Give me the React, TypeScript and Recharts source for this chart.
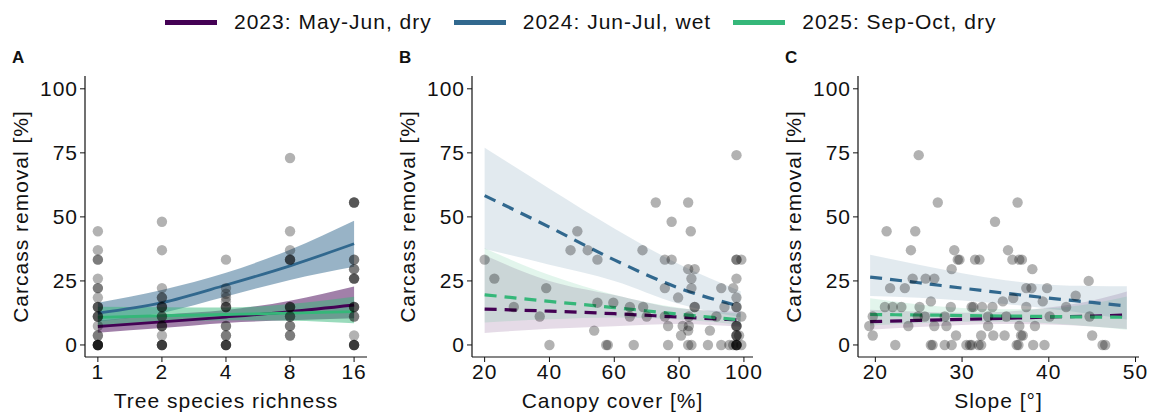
import React from 'react';
import { ComposedChart, Area, Line, Scatter, XAxis, YAxis } from 'recharts';

// seasons (legend order)
const seasons = ['2023: May-Jun, dry', '2024: Jun-Jul, wet', '2025: Sep-Oct, dry'];
const seasonColors = ['#440154', '#31688E', '#35B779'];

const removalTicks = [0, 25, 50, 75, 100];

// ---- A: tree species richness ----
const richnessTicks = [1, 2, 4, 8, 16];
const richnessFitX = [1, 2, 4, 8, 16];
const richnessFit = [
  [7.2, 9.0, 10.9, 13.0, 15.6],
  [12.4, 16.5, 23.4, 30.9, 39.5],
  [10.8, 11.4, 11.9, 12.4, 13.0],
];
const richnessLow = [
  [4.8, 6.6, 8.6, 9.6, 10.4],
  [9.2, 12.5, 18.9, 25.4, 30.5],
  [7.5, 8.8, 9.6, 9.5, 8.5],
];
const richnessHigh = [
  [9.5, 11.8, 13.6, 17.3, 22.8],
  [16.5, 21.5, 28.2, 37.2, 48.5],
  [14.9, 14.7, 14.6, 16.0, 18.8],
];
const richnessPoints = [
  [1, 44.4], [1, 37.0], [1, 33.3], [1, 33.3], [1, 25.9], [1, 22.2], [1, 22.2], [1, 18.5],
  [1, 14.8], [1, 14.8], [1, 14.8], [1, 11.1], [1, 11.1], [1, 11.1], [1, 7.4], [1, 3.7],
  [1, 3.7], [1, 0], [1, 0], [1, 0], [1, 0], [1, 0], [1, 0],
  [2, 48.1], [2, 37.0], [2, 22.2], [2, 18.5], [2, 18.5], [2, 14.8], [2, 14.8], [2, 14.8],
  [2, 11.1], [2, 11.1], [2, 7.4], [2, 7.4], [2, 7.4], [2, 3.7], [2, 0], [2, 0], [2, 0], [2, 0],
  [4, 33.3], [4, 22.2], [4, 20.0], [4, 18.5], [4, 17.0], [4, 14.8], [4, 14.8], [4, 14.8],
  [4, 7.4], [4, 7.4], [4, 3.7], [4, 3.7], [4, 0], [4, 0], [4, 0], [4, 0],
  [8, 73.0], [8, 44.4], [8, 37.0], [8, 33.3], [8, 33.3], [8, 33.3], [8, 14.8], [8, 14.8],
  [8, 14.8], [8, 11.1], [8, 11.1], [8, 7.4], [8, 7.4], [8, 3.7], [8, 3.7],
  [16, 55.6], [16, 55.6], [16, 55.6], [16, 33.3], [16, 33.3], [16, 29.6], [16, 29.6],
  [16, 25.9], [16, 25.9], [16, 25.9], [16, 14.8], [16, 14.8], [16, 14.8], [16, 11.1],
  [16, 11.1], [16, 3.7], [16, 0], [16, 0], [16, 0], [16, 0],
];

// ---- B: canopy cover ----
const canopyTicks = [20, 40, 60, 80, 100];
const canopyFitX = [20, 40, 60, 80, 99];
const canopyFit = [
  [14.0, 13.2, 12.2, 10.9, 9.7],
  [58.3, 46.0, 33.2, 22.2, 15.0],
  [19.6, 17.0, 14.6, 12.0, 9.8],
];
const canopyLow = [
  [4.7, 6.3, 7.3, 8.2, 7.1],
  [37.5, 31.3, 25.0, 16.0, 10.8],
  [8.8, 10.0, 10.7, 9.9, 7.8],
];
const canopyHigh = [
  [35.0, 25.0, 19.5, 14.3, 13.0],
  [77.0, 61.0, 45.5, 31.5, 21.0],
  [37.8, 27.3, 19.6, 14.5, 12.2],
];
const canopyPoints = [
  [20, 33.3], [23, 25.9], [29, 14.8], [37, 11.1], [39, 22.2], [40, 0], [46.5, 37.0], [48.6, 44.4],
  [51.8, 37.0], [53.8, 5.6], [54.8, 33.3], [54.8, 16.5], [57.5, 0], [58, 0], [59.7, 16.5],
  [64.8, 14.8], [64.8, 11.1], [66, 0], [68.7, 37.0], [68.9, 14.8], [70, 11.1], [72.8, 55.6],
  [75.6, 33.3], [75.6, 22.2], [75.6, 11.1], [76.6, 7.4], [76.6, 0], [77.7, 48.1], [77.7, 33.3],
  [79.7, 18.5], [80.6, 3.7], [81.1, 7.4], [82.8, 55.6], [82.8, 29.6], [82.8, 5.6], [82.8, 0],
  [83, 11.1], [83, 7.4], [83.6, 44.4], [83.8, 25.9], [83.8, 22.2], [83.8, 0], [84.8, 29.6],
  [84.8, 14.8], [84.8, 14.8], [88.9, 0], [89.5, 5.6], [91.5, 11.1], [93, 22.2], [93, 0],
  [94, 14.8], [95.5, 0], [96.7, 22.2], [96.7, 0], [97.7, 74.1], [97.7, 33.3], [97.7, 33.3],
  [97.7, 25.9], [97.7, 18.5], [97.7, 14.8], [97.7, 14.8], [97.7, 7.4], [97.7, 7.4], [97.7, 7.4],
  [97.7, 3.7], [97.7, 3.7], [97.7, 3.7], [97.7, 0], [97.7, 0], [97.7, 0], [97.7, 0], [97.7, 0],
  [99.2, 33.3], [99.2, 11.1], [99.2, 0], [98.5, 3.7],
];

// ---- C: slope ----
const slopeTicks = [20, 30, 40, 50];
const slopeFitX = [19.4, 25, 30, 35, 40, 45, 49];
const slopeFit = [
  [9.1, 9.6, 10.0, 10.4, 10.9, 11.3, 11.7],
  [26.5, 24.3, 22.2, 20.2, 18.3, 16.6, 15.2],
  [11.9, 11.7, 11.5, 11.3, 11.1, 10.9, 10.8],
];
const slopeLow = [
  [5.9, 7.0, 7.8, 8.2, 8.0, 7.2, 6.2],
  [19.1, 18.4, 17.4, 16.0, 14.1, 12.0, 9.9],
  [7.6, 8.5, 9.1, 9.1, 8.5, 7.2, 5.9],
];
const slopeHigh = [
  [13.7, 13.0, 12.6, 13.0, 14.6, 17.4, 20.9],
  [35.2, 31.3, 28.0, 25.3, 23.5, 23.0, 22.9],
  [18.2, 15.8, 14.4, 13.9, 14.3, 16.2, 18.9],
];
const slopePoints = [
  [25, 74.1], [27.2, 55.6], [36.4, 55.6], [33.8, 48.1], [21.3, 44.4], [24.6, 44.4], [24.1, 37.0],
  [29.1, 37.0], [35.3, 37.0], [29.5, 33.3], [29.7, 33.3], [31.5, 33.3], [32, 33.3], [35.8, 33.3],
  [36.6, 33.3], [36.9, 33.3], [28.8, 29.6], [38.1, 29.6], [24.3, 25.9], [25.8, 25.9], [26.8, 25.9],
  [21.7, 22.2], [23.4, 22.2], [37.4, 22.2], [38, 22.2], [39.8, 22.2], [44.6, 25.0], [43.1, 19.2],
  [26.4, 17.0], [34.7, 17.0], [35.9, 18.3], [39.3, 17.0], [21.1, 14.8], [22, 14.8], [23, 14.8],
  [25.1, 14.8], [28.7, 14.8], [31.1, 14.8], [31.3, 14.8], [32.3, 14.8], [33.5, 14.8], [37.4, 14.8],
  [42, 14.8], [19.7, 11.1], [24.9, 11.1], [25.7, 11.1], [28, 11.1], [33, 11.1], [35.1, 11.1],
  [40.1, 11.1], [44.7, 11.1], [19.3, 7.4], [23.8, 7.4], [26.8, 7.4], [28.2, 7.4], [33, 7.4],
  [36.6, 7.4], [38.4, 7.4], [19.7, 3.7], [29.3, 3.7], [32.2, 3.7], [33.6, 3.7], [34.9, 3.7],
  [37, 3.7], [36.8, 3.7], [45, 3.7], [22.3, 0], [26.4, 0], [26.6, 0], [28, 0], [28.8, 0],
  [30.5, 0], [30.9, 0], [31.1, 0], [31.9, 0], [32.2, 0], [36.3, 0], [36.5, 0], [38.2, 0],
  [39.5, 0], [46.2, 0], [46.5, 0],
];

const FONT = '"Liberation Sans", Arial, Helvetica, sans-serif';
const INK = '#111';

const buildRows = (xs: number[], fit: number[][], lo: number[][], hi: number[][]) =>
  xs.map((x, i) => {
    const row: any = { x };
    seasons.forEach((_, s) => {
      row['f' + s] = fit[s][i];
      row['b' + s] = [lo[s][i], hi[s][i]];
    });
    return row;
  });

const toPoints = (pts: number[][]) => pts.map(([x, y]) => ({ x, y }));

const Dot = (props: any) => {
  if (props.cx == null || props.cy == null) return null;
  return <circle cx={props.cx} cy={props.cy} r={5.2} fill="#000" fillOpacity={0.3} />;
};

interface PanelProps {
  left: number;
  marginRight: number;
  rows: any[];
  points: { x: number; y: number }[];
  xDomain: number[];
  xTicks: number[];
  xLabel: string;
  logX?: boolean;
  dashed?: boolean;
  bandOpacity: number;
}

const Panel = ({ left, marginRight, rows, points, xDomain, xTicks, xLabel, logX, dashed, bandOpacity }: PanelProps) => (
  <div style={{ position: 'absolute', left, top: 0 }}>
    <ComposedChart
      width={380}
      height={416}
      data={rows}
      margin={{ top: 76, right: marginRight, bottom: 0, left: 0 }}
    >
      <XAxis
        dataKey="x"
        type="number"
        scale={logX ? 'log' : 'auto'}
        domain={xDomain}
        ticks={xTicks}
        interval={0}
        allowDataOverflow
        height={59}
        tickSize={5}
        tick={{ fill: INK, fontSize: 21 }}
        tickLine={{ stroke: INK }}
        axisLine={{ stroke: INK, strokeWidth: 1.2 }}
        label={{ value: xLabel, position: 'insideBottom', offset: 8, fill: INK, fontSize: 21 }}
      />
      <YAxis
        type="number"
        domain={[-4.7, 105]}
        ticks={removalTicks}
        interval={0}
        allowDataOverflow
        width={85}
        tickSize={5}
        tick={{ fill: INK, fontSize: 21 }}
        tickLine={{ stroke: INK }}
        axisLine={{ stroke: INK, strokeWidth: 1.2 }}
        label={{
          value: 'Carcass removal [%]',
          angle: -90,
          position: 'insideLeft',
          offset: 21,
          fill: INK,
          fontSize: 21,
          style: { textAnchor: 'middle' },
        }}
      />
      {seasons.map((s, i) => (
        <Area
          key={'band' + s}
          dataKey={'b' + i}
          type="monotone"
          stroke="none"
          fill={seasonColors[i]}
          fillOpacity={bandOpacity}
          activeDot={false}
          isAnimationActive={false}
        />
      ))}
      <Scatter data={points} dataKey="y" shape={<Dot />} isAnimationActive={false} />
      {seasons.map((s, i) => (
        <Line
          key={'fit' + s}
          dataKey={'f' + i}
          type="monotone"
          stroke={seasonColors[i]}
          strokeWidth={dashed ? 3.2 : 2.8}
          strokeDasharray={dashed ? '12 8' : undefined}
          dot={false}
          activeDot={false}
          isAnimationActive={false}
        />
      ))}
    </ComposedChart>
  </div>
);

const panelLabel = (text: string, left: number) => (
  <div
    style={{
      position: 'absolute',
      left,
      top: 49,
      fontSize: 17,
      lineHeight: '17px',
      fontWeight: 700,
      letterSpacing: 0,
      color: INK,
    }}
  >
    {text}
  </div>
);

export default function App() {
  return (
    <div
      style={{
        position: 'absolute',
        left: 0,
        top: 0,
        width: 1153,
        height: 416,
        background: '#fff',
        fontFamily: FONT,
        letterSpacing: '1px',
        overflow: 'hidden',
      }}
    >
      {/* legend */}
      <div
        style={{
          position: 'absolute',
          left: 165,
          top: 9,
          height: 26,
          display: 'flex',
          alignItems: 'center',
          fontSize: 21,
          color: INK,
          whiteSpace: 'nowrap',
        }}
      >
        {seasons.map((s, i) => (
          <div key={s} style={{ display: 'flex', alignItems: 'center', marginRight: 22 }}>
            <div style={{ width: 52, height: 5, background: seasonColors[i], marginRight: 17 }} />
            <span>{s}</span>
          </div>
        ))}
      </div>

      {panelLabel('A', 12)}
      {panelLabel('B', 399)}
      {panelLabel('C', 785)}

      <Panel
        left={0}
        marginRight={13}
        rows={buildRows(richnessFitX, richnessFit, richnessLow, richnessHigh)}
        points={toPoints(richnessPoints)}
        xDomain={[0.87, 18.4]}
        xTicks={richnessTicks}
        xLabel="Tree species richness"
        logX
        bandOpacity={0.5}
      />
      <Panel
        left={387}
        marginRight={14}
        rows={buildRows(canopyFitX, canopyFit, canopyLow, canopyHigh)}
        points={toPoints(canopyPoints)}
        xDomain={[16.1, 102.8]}
        xTicks={canopyTicks}
        xLabel="Canopy cover [%]"
        dashed
        bandOpacity={0.14}
      />
      <Panel
        left={773}
        marginRight={14}
        rows={buildRows(slopeFitX, slopeFit, slopeLow, slopeHigh)}
        points={toPoints(slopePoints)}
        xDomain={[18.0, 50.4]}
        xTicks={slopeTicks}
        xLabel="Slope [°]"
        dashed
        bandOpacity={0.14}
      />
    </div>
  );
}
